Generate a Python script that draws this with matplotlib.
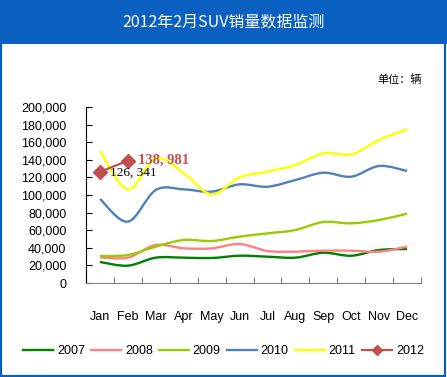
import numpy as np
import matplotlib
matplotlib.use("Agg")
import matplotlib.pyplot as plt
from matplotlib.path import Path
from matplotlib.patches import PathPatch, Rectangle
from matplotlib.lines import Line2D

plt.rcParams['font.family'] = ['Noto Sans CJK SC', 'DejaVu Sans']

# 数据
months = ['Jan', 'Feb', 'Mar', 'Apr', 'May', 'Jun', 'Jul', 'Aug', 'Sep', 'Oct', 'Nov', 'Dec']
s2007 = [23900, 19700, 28800, 28800, 28400, 31000, 29900, 28800, 34400, 31000, 37500, 38600]
s2008 = [29200, 28800, 43200, 39400, 39400, 44300, 36400, 35600, 36700, 36700, 35600, 41300]
s2009 = [30700, 31800, 41300, 48900, 47700, 52700, 56400, 60200, 69300, 67800, 71600, 78800]
s2010 = [95500, 69700, 105700, 106400, 103800, 112100, 109400, 117000, 125300, 120800, 133000, 127300]
s2011 = [150000, 106400, 141700, 124700, 100800, 120100, 126500, 134100, 147400, 146200, 162500, 174700]
s2012 = [126341, 138981]

series = [('2007', s2007, '#008000'),
          ('2008', s2008, '#FF8080'),
          ('2009', s2009, '#99CC00'),
          ('2010', s2010, '#4F81BD'),
          ('2011', s2011, '#FFFF00')]
c2012 = '#C0504D'
blue = '#0A60C0'


def smooth_path(y):
    # curva suave tipo Excel (Bezier)
    x = np.arange(len(y), dtype=float)
    y = np.asarray(y, dtype=float)
    n = len(y)
    verts = [(x[0], y[0])]
    codes = [Path.MOVETO]
    for i in range(n - 1):
        xm, ym = (x[i - 1], y[i - 1]) if i > 0 else (x[i], y[i])
        xp, yp = (x[i + 2], y[i + 2]) if i + 2 < n else (x[i + 1], y[i + 1])
        c1 = (x[i] + (x[i + 1] - xm) / 6, y[i] + (y[i + 1] - ym) / 6)
        c2 = (x[i + 1] - (xp - x[i]) / 6, y[i + 1] - (yp - y[i]) / 6)
        verts += [c1, c2, (x[i + 1], y[i + 1])]
        codes += [Path.CURVE4] * 3
    return Path(verts, codes)


fig = plt.figure(figsize=(4.47, 3.77), dpi=100)
fig.patch.set_facecolor('white')

# barra del titulo y borde
fig.patches.append(Rectangle((0, 1 - 44 / 377), 1, 44 / 377, transform=fig.transFigure,
                             facecolor=blue, edgecolor='none', zorder=0))
fig.patches.append(Rectangle((0.002, 0.003), 0.994, 0.994, transform=fig.transFigure,
                             facecolor='none', edgecolor=blue, linewidth=1.6, zorder=1))
fig.text(0.5, 1 - 22 / 377, '2012年2月SUV销量数据监测', color='white', fontsize=11.5,
         ha='center', va='center')
fig.text(400 / 447, 1 - 80 / 377, '单位：辆', fontsize=8, ha='center', va='center')

ax = fig.add_axes([86 / 447, 1 - 283 / 377, 335 / 447, 176 / 377])
for name, vals, col in series:
    ax.add_patch(PathPatch(smooth_path(vals), facecolor='none', edgecolor=col, lw=1.7, zorder=2))
ax.plot(range(len(s2012)), s2012, color=c2012, lw=1.6, marker='D', markersize=7, zorder=3)

ax.text(0.35, s2012[0] - 800, '126, 341', fontsize=9.5, family=['Liberation Serif'],
        va='center', ha='left', color='black', zorder=4)
ax.text(1.35, s2012[1] + 1000, '138, 981', fontsize=10.5, family=['Liberation Serif'],
        va='center', ha='left', color=c2012, fontweight='bold', zorder=4)

ax.set_xlim(-0.5, 11.5)
ax.set_ylim(0, 200000)
ax.set_yticks(range(0, 200001, 20000))
ax.set_yticklabels([f'{v:,}' if v else '0' for v in range(0, 200001, 20000)],
                   family=['Liberation Sans'], fontsize=9)
ax.set_xticks(np.arange(-0.5, 12, 1))
ax.set_xticklabels([])
ax.set_xticks(range(12), minor=True)
ax.set_xticklabels(months, minor=True, family=['Liberation Sans'], fontsize=9)
ax.tick_params(axis='x', which='major', direction='in', length=4, color='#808080')
ax.tick_params(axis='x', which='minor', length=0, pad=20)
ax.tick_params(axis='y', direction='in', length=4, pad=14, color='black')

for s in ['top', 'right']:
    ax.spines[s].set_visible(False)
ax.spines['bottom'].set_color('#808080')
ax.spines['left'].set_color('black')

handles = [Line2D([], [], color=c, lw=1.7) for _, _, c in series]
handles.append(Line2D([], [], color=c2012, lw=1.6, marker='D', markersize=5))
labels = [n for n, _, _ in series] + ['2012']
fig.legend(handles, labels, loc='center', bbox_to_anchor=(0.5, 1 - 351 / 377), ncol=6,
           frameon=False, prop={'family': 'Liberation Sans', 'size': 9},
           handlelength=2.4, handletextpad=0.3, columnspacing=0.5)

fig.savefig('out.png', dpi=100)
